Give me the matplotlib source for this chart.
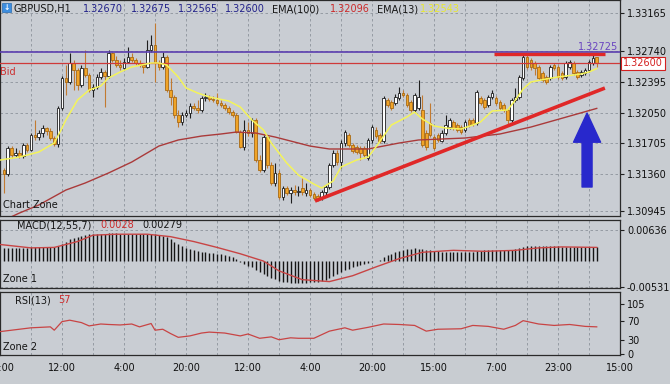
import matplotlib
matplotlib.use("Agg")
import matplotlib.pyplot as plt
import matplotlib.transforms as mtransforms
from matplotlib.patches import Rectangle

# ── GBPUSD H1 candles ───────────────────────────────────────────────────
open_ = [1.31405, 1.31361, 1.31652, 1.31574, 1.31596, 1.31562, 1.31686, 1.31630, 1.31798, 1.31775,
         1.31820, 1.31876, 1.31843, 1.31764, 1.31697, 1.32100, 1.32437, 1.32392, 1.32605, 1.32526,
         1.32358, 1.32549, 1.32470, 1.32302, 1.32336, 1.32448, 1.32504, 1.32459, 1.32717, 1.32638,
         1.32582, 1.32549, 1.32616, 1.32672, 1.32638, 1.32605, 1.32582, 1.32560, 1.32751, 1.32807,
         1.32605, 1.32560, 1.32672, 1.32302, 1.32224, 1.32022, 1.31944, 1.32022, 1.32044, 1.32123,
         1.32100, 1.32078, 1.32213, 1.32224, 1.32201, 1.32190, 1.32156, 1.32134, 1.32100, 1.32056,
         1.32022, 1.31831, 1.31663, 1.31854, 1.31820, 1.31966, 1.31517, 1.31405, 1.31775, 1.31461,
         1.31260, 1.31372, 1.31103, 1.31204, 1.31148, 1.31181, 1.31159, 1.31204, 1.31148, 1.31181,
         1.31136, 1.31114, 1.31092, 1.31159, 1.31215, 1.31461, 1.31596, 1.31495, 1.31708, 1.31798,
         1.31686, 1.31663, 1.31652, 1.31652, 1.31540, 1.31742, 1.31854, 1.31798, 1.31731, 1.32190,
         1.32168, 1.32156, 1.32213, 1.32269, 1.32246, 1.32168, 1.32078, 1.32100, 1.32078, 1.31820,
         1.31932, 1.31775, 1.31798, 1.31731, 1.31820, 1.31887, 1.31944, 1.31910, 1.31887, 1.31854,
         1.31966, 1.31966, 1.31932, 1.32213, 1.32190, 1.32134, 1.32224, 1.32213, 1.32168, 1.32134,
         1.32078, 1.31966, 1.32190, 1.32224, 1.32437, 1.32672, 1.32638, 1.32605, 1.32560, 1.32493,
         1.32448, 1.32437, 1.32582, 1.32560, 1.32493, 1.32448, 1.32560, 1.32605, 1.32504, 1.32470,
         1.32493, 1.32526, 1.32605, 1.32670]
high = [1.31428, 1.31675, 1.31675, 1.31652, 1.31630, 1.31708, 1.31708, 1.31820, 1.31966, 1.31854,
        1.31910, 1.31887, 1.31876, 1.31787, 1.32123, 1.32459, 1.32582, 1.32717, 1.32638, 1.32549,
        1.32582, 1.32751, 1.32493, 1.32369, 1.32482, 1.32549, 1.32526, 1.32751, 1.32728, 1.32683,
        1.32638, 1.32661, 1.32784, 1.32717, 1.32661, 1.32638, 1.32605, 1.32863, 1.32919, 1.33053,
        1.32638, 1.32728, 1.32695, 1.32437, 1.32246, 1.32078, 1.32056, 1.32078, 1.32156, 1.32156,
        1.32190, 1.32235, 1.32269, 1.32246, 1.32235, 1.32269, 1.32190, 1.32156, 1.32123, 1.32078,
        1.32044, 1.31854, 1.31966, 1.31944, 1.31988, 1.31988, 1.31574, 1.31798, 1.31798, 1.31495,
        1.31484, 1.31405, 1.31226, 1.31226, 1.31215, 1.31237, 1.31226, 1.31316, 1.31260, 1.31204,
        1.31159, 1.31136, 1.31181, 1.31237, 1.31484, 1.31630, 1.31630, 1.31742, 1.31854, 1.31820,
        1.31708, 1.31686, 1.31675, 1.31675, 1.31764, 1.31910, 1.31887, 1.31820, 1.32235, 1.32213,
        1.32190, 1.32257, 1.32336, 1.32302, 1.32269, 1.32190, 1.32269, 1.32414, 1.32246, 1.31854,
        1.32156, 1.31798, 1.31820, 1.31854, 1.32022, 1.31988, 1.31966, 1.31932, 1.31910, 1.31966,
        1.31988, 1.31988, 1.32302, 1.32235, 1.32213, 1.32246, 1.32302, 1.32235, 1.32190, 1.32156,
        1.32100, 1.32213, 1.32325, 1.32470, 1.32695, 1.32695, 1.32661, 1.32627, 1.32582, 1.32515,
        1.32470, 1.32582, 1.32605, 1.32582, 1.32515, 1.32627, 1.32638, 1.32627, 1.32526, 1.32526,
        1.32549, 1.32638, 1.32695, 1.32675]
low = [1.31148, 1.31338, 1.31540, 1.31551, 1.31540, 1.31540, 1.31607, 1.31618, 1.31742, 1.31742,
       1.31775, 1.31798, 1.31742, 1.31675, 1.31663, 1.32078, 1.32246, 1.32369, 1.32302, 1.32302,
       1.32336, 1.32448, 1.32280, 1.32224, 1.32313, 1.32425, 1.32112, 1.32437, 1.32616, 1.32560,
       1.32526, 1.32526, 1.32605, 1.32616, 1.32582, 1.32560, 1.32493, 1.32549, 1.32728, 1.32392,
       1.32526, 1.32538, 1.32280, 1.32134, 1.31988, 1.31887, 1.31910, 1.32000, 1.31988, 1.32078,
       1.32044, 1.32056, 1.32179, 1.32179, 1.32168, 1.32134, 1.32112, 1.32078, 1.32033, 1.32000,
       1.31820, 1.31652, 1.31630, 1.31787, 1.31775, 1.31495, 1.31383, 1.31383, 1.31428, 1.31237,
       1.31226, 1.31080, 1.31069, 1.31125, 1.31036, 1.31125, 1.31114, 1.31125, 1.31114, 1.31103,
       1.31069, 1.31058, 1.31069, 1.31125, 1.31192, 1.31439, 1.31461, 1.31428, 1.31675, 1.31663,
       1.31596, 1.31585, 1.31517, 1.31540, 1.31517, 1.31708, 1.31764, 1.31708, 1.31708, 1.32112,
       1.32078, 1.32134, 1.32190, 1.32224, 1.32112, 1.32056, 1.32056, 1.32078, 1.31663, 1.31630,
       1.31775, 1.31630, 1.31719, 1.31719, 1.31798, 1.31865, 1.31854, 1.31831, 1.31809, 1.31831,
       1.31887, 1.31899, 1.31910, 1.32134, 1.32089, 1.32112, 1.32201, 1.32134, 1.32078, 1.32056,
       1.31921, 1.31944, 1.32168, 1.32201, 1.32414, 1.32538, 1.32526, 1.32470, 1.32414, 1.32392,
       1.32369, 1.32414, 1.32526, 1.32425, 1.32414, 1.32425, 1.32538, 1.32470, 1.32425, 1.32448,
       1.32470, 1.32504, 1.32582, 1.32565]
close = [1.31361, 1.31652, 1.31574, 1.31596, 1.31562, 1.31686, 1.31630, 1.31798, 1.31775, 1.31820,
         1.31876, 1.31843, 1.31764, 1.31697, 1.32100, 1.32437, 1.32392, 1.32605, 1.32526, 1.32358,
         1.32549, 1.32470, 1.32302, 1.32336, 1.32448, 1.32504, 1.32459, 1.32717, 1.32638, 1.32582,
         1.32560, 1.32616, 1.32672, 1.32638, 1.32605, 1.32582, 1.32560, 1.32751, 1.32807, 1.32605,
         1.32560, 1.32672, 1.32302, 1.32224, 1.32022, 1.31944, 1.32022, 1.32044, 1.32123, 1.32100,
         1.32078, 1.32213, 1.32224, 1.32201, 1.32190, 1.32156, 1.32134, 1.32100, 1.32056, 1.32022,
         1.31831, 1.31663, 1.31854, 1.31820, 1.31966, 1.31517, 1.31405, 1.31775, 1.31461, 1.31260,
         1.31372, 1.31103, 1.31204, 1.31148, 1.31181, 1.31159, 1.31170, 1.31159, 1.31181, 1.31125,
         1.31092, 1.31080, 1.31159, 1.31215, 1.31461, 1.31596, 1.31495, 1.31708, 1.31831, 1.31686,
         1.31618, 1.31607, 1.31596, 1.31574, 1.31742, 1.31887, 1.31787, 1.31731, 1.32213, 1.32134,
         1.32100, 1.32224, 1.32269, 1.32246, 1.32134, 1.32078, 1.32246, 1.32224, 1.31686, 1.31663,
         1.31798, 1.31652, 1.31742, 1.31820, 1.31910, 1.31966, 1.31876, 1.31854, 1.31831, 1.31944,
         1.31910, 1.31921, 1.32280, 1.32156, 1.32112, 1.32224, 1.32269, 1.32156, 1.32100, 1.32078,
         1.31966, 1.32190, 1.32224, 1.32448, 1.32672, 1.32560, 1.32560, 1.32549, 1.32437, 1.32414,
         1.32392, 1.32560, 1.32549, 1.32448, 1.32437, 1.32605, 1.32616, 1.32493, 1.32448, 1.32504,
         1.32526, 1.32616, 1.32661, 1.32600]

# EMA(100) and EMA(13), sampled along the lines
ema100_idx = [0, 5, 10, 17, 22, 28, 34, 41, 46, 52, 57, 61, 66, 71, 76, 80, 85, 95, 103, 108,
              120, 129, 137, 148, 154]
ema100 = [1.30822, 1.30923, 1.31013, 1.31181, 1.31260, 1.31372, 1.31495, 1.31674, 1.31742,
          1.31786, 1.31809, 1.31831, 1.31820, 1.31775, 1.31719, 1.31674, 1.31641, 1.31641,
          1.31708, 1.31742, 1.31764, 1.31809, 1.31887, 1.32022, 1.32096]
ema13_idx = [0, 5, 10, 14, 16, 17, 20, 23, 26, 28, 31, 34, 39, 41, 43, 46, 48, 51, 54, 59,
             62, 65, 68, 70, 74, 77, 81, 83, 86, 88, 92, 95, 97, 101, 105, 107, 109, 112, 115,
             119, 122, 124, 127, 131, 133, 135, 137, 141, 144, 148, 150, 152, 154]
ema13 = [1.31517, 1.31551, 1.31607, 1.31708, 1.31876, 1.31966, 1.32190, 1.32302, 1.32347,
         1.32437, 1.32504, 1.32560, 1.32605, 1.32605, 1.32582, 1.32448, 1.32325, 1.32269,
         1.32224, 1.32179, 1.32112, 1.31966, 1.31854, 1.31708, 1.31484, 1.31349, 1.31248,
         1.31204, 1.31282, 1.31439, 1.31517, 1.31551, 1.31663, 1.31910, 1.32000, 1.32056,
         1.31977, 1.31899, 1.31876, 1.31865, 1.31910, 1.31944, 1.32067, 1.32078, 1.32190,
         1.32313, 1.32392, 1.32426, 1.32448, 1.32470, 1.32482, 1.32504, 1.32543]

# MACD(12,55,7): histogram per candle + signal line
macd_hist = [0.0027, 0.0027, 0.0026, 0.0026, 0.0026, 0.0027, 0.0027, 0.0028, 0.0028, 0.0028,
             0.0028, 0.0029, 0.0029, 0.0029, 0.0030, 0.0035, 0.0040, 0.0045, 0.0048, 0.0050,
             0.0052, 0.0054, 0.0055, 0.0055, 0.0056, 0.0056, 0.0056, 0.0057, 0.0057, 0.0057,
             0.0056, 0.0056, 0.0056, 0.0055, 0.0055, 0.0055, 0.0055, 0.0056, 0.0056, 0.0055,
             0.0054, 0.0052, 0.0049, 0.0045, 0.0040, 0.0035, 0.0030, 0.0027, 0.0024, 0.0022,
             0.0020, 0.0019, 0.0018, 0.0017, 0.0016, 0.0015, 0.0014, 0.0012, 0.0010, 0.0008,
             0.0004, -0.0002, -0.0006, -0.0010, -0.0013, -0.0018, -0.0023, -0.0026, -0.0030, -0.0034,
             -0.0036, -0.0040, -0.0042, -0.0043, -0.0044, -0.0044, -0.0044, -0.0044, -0.0044, -0.0043,
             -0.0043, -0.0042, -0.0041, -0.0039, -0.0035, -0.0031, -0.0027, -0.0023, -0.0019, -0.0016,
             -0.0013, -0.0010, -0.0008, -0.0006, -0.0004, -0.0001, 0.0001, 0.0003, 0.0008, 0.0012,
             0.0015, 0.0018, 0.0021, 0.0023, 0.0024, 0.0025, 0.0026, 0.0025, 0.0024, 0.0023,
             0.0022, 0.0021, 0.0020, 0.0019, 0.0019, 0.0019, 0.0018, 0.0018, 0.0018, 0.0018,
             0.0018, 0.0018, 0.0020, 0.0021, 0.0022, 0.0022, 0.0023, 0.0023, 0.0023, 0.0023,
             0.0022, 0.0023, 0.0024, 0.0026, 0.0029, 0.0030, 0.0030, 0.0030, 0.0030, 0.0030,
             0.0030, 0.0030, 0.0030, 0.0030, 0.0029, 0.0029, 0.0029, 0.0029, 0.0029, 0.0028,
             0.0028, 0.0028, 0.0028, 0.00279]
macd_sig_idx = [0, 8, 14, 20, 24, 30, 38, 44, 50, 56, 62, 68, 72, 78, 85, 91, 97, 103, 109,
                117, 125, 133, 139, 145, 154]
macd_sig = [0.0034, 0.0027, 0.0028, 0.0040, 0.0053, 0.0055, 0.0055, 0.0050, 0.0040, 0.0028,
            0.0015, 0.0000, -0.0020, -0.0038, -0.0042, -0.0030, -0.0012, 0.0005, 0.0018,
            0.0022, 0.0020, 0.0022, 0.0027, 0.0029, 0.0028]

# RSI(13)
rsi_idx = [0, 5, 8, 13, 14, 16, 18, 21, 23, 26, 28, 31, 34, 36, 39, 40, 42, 44, 46, 49,
           52, 54, 58, 62, 64, 67, 70, 72, 75, 77, 81, 85, 89, 91, 95, 99, 103, 107, 110,
           113, 119, 122, 126, 130, 133, 135, 139, 143, 147, 151, 154]
rsi = [47, 52, 55, 57, 50, 68, 71, 66, 59, 63, 62, 61, 63, 57, 64, 50, 52, 43, 35, 38,
       44, 46, 44, 38, 42, 33, 36, 30, 34, 33, 33, 48, 55, 50, 56, 63, 62, 60, 48,
       52, 53, 60, 58, 52, 60, 70, 63, 60, 62, 58, 57]

time_ticks = [0, 16, 32, 48, 64, 80, 96, 112, 128, 144, 160]
time_labels = ["20:00", "12:00", "4:00", "20:00", "12:00", "4:00", "20:00",
               "15:00", "7:00", "23:00", "15:00"]
price_ticks = [1.30945, 1.31360, 1.31705, 1.32050, 1.32395, 1.32740, 1.33165]
macd_ticks = [-0.00531, 0.00636]
rsi_ticks = [0, 30, 70, 105]

ask_level = 1.32725
resist_idx, resist_px = [127.6, 156.0], [1.32706, 1.32706]
trend_idx, trend_px = [81.3, 156.1], [1.31058, 1.32324]
arrow_idx, arrow_from, arrow_to = 151.5, 1.31215, 1.32044

# ── style ───────────────────────────────────────────────────────────────
W, H = 670, 384
BG = "#c8ccd1"
PANEL = "#c9cdd3"
GRIDC = "#8d939b"
BULL, BEAR, BEAR_EDGE = "#ffffff", "#f0a428", "#a86a14"
EMA100_C, EMA13_C = "#aa3a3a", "#f4f45a"
RED = "#e02828"
FS = 7

plt.rcParams.update({"font.family": "DejaVu Sans", "font.size": FS})

fig = plt.figure(figsize=(W / 100, H / 100), dpi=100, facecolor=BG)


def px_box(x0, y0, x1, y1):
    return [x0 / W, 1 - y1 / H, (x1 - x0) / W, (y1 - y0) / H]


ax = fig.add_axes(px_box(0, 0, 620, 216))
am = fig.add_axes(px_box(0, 220, 620, 288), sharex=ax)
ar = fig.add_axes(px_box(0, 292, 620, 355), sharex=ax)

for a in (ax, am, ar):
    a.set_facecolor(PANEL)
    for s in a.spines.values():
        s.set_color("#2a2a2a")
        s.set_linewidth(0.9)
    a.yaxis.tick_right()
    a.tick_params(axis="y", direction="out", length=3, width=0.8, color="#202020",
                  labelsize=FS, pad=2, labelcolor="#101010")
    a.tick_params(axis="x", length=0, labelsize=FS, pad=6, labelcolor="#101010")
    a.set_xticks(time_ticks)
    a.set_xticks(range(8, 160, 16), minor=True)
    a.tick_params(axis="x", which="minor", length=0)
    a.grid(True, which="both", axis="x", color=GRIDC, lw=0.6, ls=(0, (3, 3)))
    a.set_axisbelow(True)

ax.set_xlim(0, 160)
ax.tick_params(labelbottom=False)
am.tick_params(labelbottom=False)
ar.set_xticklabels(time_labels)

# ── main chart ──────────────────────────────────────────────────────────
ax.set_ylim(1.30890, 1.33311)
ax.set_yticks(price_ticks)
ax.set_yticklabels([f"{p:.5f}" for p in price_ticks])
ax.grid(True, axis="y", color=GRIDC, lw=0.6, ls=(0, (3, 3)))

idx = list(range(1, len(close) + 1))
for i, o, h, l, c in zip(idx, open_, high, low, close):
    up = c >= o
    ax.vlines(i, l, h, color="#1e1e1e" if up else "#c27a30", lw=0.8, zorder=2)
    ax.bar(i, abs(c - o), bottom=min(o, c), width=0.68,
           color=BULL if up else BEAR, edgecolor="#1e1e1e" if up else BEAR_EDGE,
           linewidth=0.6, zorder=3)

ax.axhline(ask_level, color="#5b3fb0", lw=1.2, zorder=4)
ax.axhline(close[-1], color="#cf3a3a", lw=0.9, zorder=4)
ax.plot(ema100_idx, ema100, color=EMA100_C, lw=1.0, zorder=5)
ax.plot(ema13_idx, ema13, color=EMA13_C, lw=1.1, zorder=5)
ax.plot(trend_idx, trend_px, color=RED, lw=2.6, solid_capstyle="butt", zorder=6)
ax.plot(resist_idx, resist_px, color=RED, lw=2.4, solid_capstyle="butt", zorder=6)

ax.annotate("", xy=(arrow_idx, arrow_to), xytext=(arrow_idx, arrow_from),
            arrowprops=dict(arrowstyle="simple,head_length=2.1,head_width=1.95,tail_width=0.72",
                            color="#2828cc", shrinkA=0, shrinkB=0, mutation_scale=10),
            zorder=7)

right = mtransforms.blended_transform_factory(ax.transAxes, ax.transData)
ax.text(1.0 + 3 / 620, close[-1], f"{close[-1]:.5f}", transform=right, ha="left",
        va="center", color="#d42020", fontsize=FS, zorder=10, clip_on=False,
        bbox=dict(boxstyle="square,pad=0.18", fc="white", ec="#d42020", lw=0.8))
ax.text(1.0 - 2 / 620, ask_level + 0.00008, f"{ask_level:.5f}", transform=right, ha="right",
        va="bottom", color="#6a44c0", fontsize=FS, zorder=10)
ax.text(0.006, close[-1] - 0.00095, "Bid", color="#cc3030", fontsize=FS,
        va="center", ha="left", zorder=10)
ax.text(0.005, 0.05, "Chart Zone", transform=ax.transAxes, color="#151515",
        fontsize=FS, va="center", ha="left", zorder=10)

# header line
header = [("GBPUSD,H1", 13, "#151515"),
          (f"{open_[-1]:.5f}", 83, "#22228a"),
          (f"{high[-1]:.5f}", 131, "#22228a"),
          (f"{low[-1]:.5f}", 178, "#22228a"),
          (f"{close[-1]:.5f}", 225, "#22228a"),
          ("EMA(100)", 272, "#151515"),
          (f"{ema100[-1]:.5f}", 330, "#cc2a2a"),
          ("EMA(13)", 377, "#151515"),
          (f"{ema13[-1]:.5f}", 420, "#e8e830")]
for txt, xp, col in header:
    fig.text(xp / W, 1 - 9 / H, txt, color=col, fontsize=FS, ha="left", va="center")
fig.patches.append(Rectangle((2 / W, 1 - 12 / H), 9 / W, 9 / H, transform=fig.transFigure,
                             fc="#3d8ee0", ec="#2a6cb0", lw=0.5))
fig.text(6.5 / W, 1 - 7.5 / H, "↓", color="white", fontsize=5.5, ha="center", va="center",
         fontweight="bold")

# ── MACD ────────────────────────────────────────────────────────────────
am.set_ylim(-0.00551, 0.00841)
am.set_yticks(macd_ticks)
am.set_yticklabels([f"{v:.5f}" for v in macd_ticks])
am.grid(True, axis="y", color=GRIDC, lw=0.6, ls=(0, (3, 3)))
am.vlines(idx, 0, macd_hist, color="#141414", lw=1.0, zorder=3)
am.plot(macd_sig_idx, macd_sig, color="#c84444", lw=1.0, zorder=4)
am.text(17 / 620, 0.92, "MACD(12,55,7)", transform=am.transAxes, color="#151515",
        fontsize=FS, va="center")
am.text(100 / 620, 0.92, f"{macd_sig[-1]:.4f}", transform=am.transAxes, color="#cc2a2a",
        fontsize=FS, va="center")
am.text(142 / 620, 0.92, f"{macd_hist[-1]:.5f}", transform=am.transAxes, color="#151515",
        fontsize=FS, va="center")
am.text(0.005, 0.13, "Zone 1", transform=am.transAxes, color="#151515", fontsize=FS,
        va="center")

# ── RSI ─────────────────────────────────────────────────────────────────
ar.set_ylim(-2.1, 130.2)
ar.set_yticks(rsi_ticks)
ar.plot(rsi_idx, rsi, color="#c84444", lw=0.9, zorder=3)
ar.text(15 / 620, 0.87, "RSI(13)", transform=ar.transAxes, color="#151515", fontsize=FS,
        va="center")
ar.text(58 / 620, 0.87, f"{rsi[-1]:d}", transform=ar.transAxes, color="#cc2a2a",
        fontsize=FS, va="center")
ar.text(0.005, 0.13, "Zone 2", transform=ar.transAxes, color="#151515", fontsize=FS,
        va="center")

fig.savefig("out.png", dpi=100, facecolor=BG)
